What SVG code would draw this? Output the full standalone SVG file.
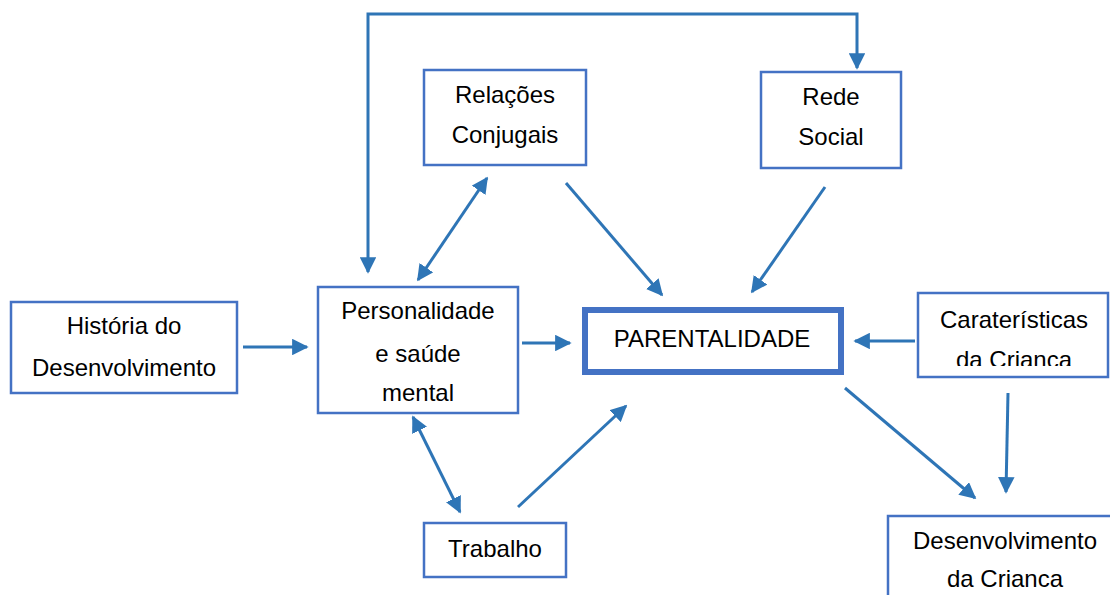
<svg xmlns="http://www.w3.org/2000/svg" width="1110" height="595" viewBox="0 0 1110 595">
<style>
.box{fill:#fff;stroke:#4472C4;stroke-width:2.5}
.thick{fill:#fff;stroke:#4472C4;stroke-width:6}
.t{font-family:"Liberation Sans",Arial,sans-serif;font-size:24px;fill:#000;text-anchor:middle}
.c{fill:none;stroke:#2E75B6;stroke-width:3}
</style>
<defs>
<marker id="ah" viewBox="0 0 10 10" refX="9" refY="5" markerWidth="5.5" markerHeight="5.5" orient="auto-start-reverse" markerUnits="strokeWidth">
<path d="M0,0 L10,5 L0,10 z" fill="#2E75B6"/>
</marker>
<clipPath id="clipCar"><rect x="918" y="293" width="192" height="73"/></clipPath>
</defs>
<rect width="1110" height="595" fill="#fff"/>
<g id="connectors">
<path class="c" d="M368,272 V14 H857 V68" marker-start="url(#ah)" marker-end="url(#ah)"/>
<line class="c" x1="243" y1="347" x2="307" y2="347" marker-end="url(#ah)"/>
<line class="c" x1="522" y1="343" x2="570" y2="343" marker-end="url(#ah)"/>
<line class="c" x1="915" y1="341" x2="855" y2="341" marker-end="url(#ah)"/>
<line class="c" x1="487" y1="178" x2="418" y2="280" marker-start="url(#ah)" marker-end="url(#ah)"/>
<line class="c" x1="413" y1="417" x2="460" y2="512" marker-start="url(#ah)" marker-end="url(#ah)"/>
<line class="c" x1="518" y1="507" x2="626" y2="406" marker-end="url(#ah)"/>
<line class="c" x1="566" y1="183" x2="662" y2="295" marker-end="url(#ah)"/>
<line class="c" x1="825" y1="187" x2="752" y2="292" marker-end="url(#ah)"/>
<line class="c" x1="845" y1="388" x2="975" y2="498" marker-end="url(#ah)"/>
<line class="c" x1="1008" y1="393" x2="1006" y2="492" marker-end="url(#ah)"/>
</g>
<g id="relacoes">
<rect class="box" x="424" y="70" width="162" height="95"/>
<text class="t" x="505" y="103">Relações</text>
<text class="t" x="505" y="143">Conjugais</text>
</g>
<g id="rede">
<rect class="box" x="761" y="72" width="140" height="96"/>
<text class="t" x="831" y="105">Rede</text>
<text class="t" x="831" y="145">Social</text>
</g>
<g id="historia">
<rect class="box" x="11" y="302" width="226" height="91"/>
<text class="t" x="124" y="334">História do</text>
<text class="t" x="124" y="376">Desenvolvimento</text>
</g>
<g id="personalidade">
<rect class="box" x="318" y="287" width="200" height="126"/>
<text class="t" x="418" y="319">Personalidade</text>
<text class="t" x="418" y="362">e saúde</text>
<text class="t" x="418" y="401">mental</text>
</g>
<g id="parentalidade">
<rect class="thick" x="585" y="310" width="256" height="62"/>
<text class="t" x="712" y="347">PARENTALIDADE</text>
</g>
<g id="caracteristicas">
<rect class="box" x="918" y="293" width="190" height="84"/>
<g clip-path="url(#clipCar)">
<text class="t" x="1014" y="328">Caraterísticas</text>
<text class="t" x="1014" y="368">da Crianca</text>
</g>
</g>
<g id="trabalho">
<rect class="box" x="424" y="523" width="142" height="54"/>
<text class="t" x="495" y="557">Trabalho</text>
</g>
<g id="desenvolvimento">
<rect class="box" x="888" y="516" width="230" height="90"/>
<text class="t" x="1005" y="549">Desenvolvimento</text>
<text class="t" x="1005" y="587">da Crianca</text>
</g>
</svg>
